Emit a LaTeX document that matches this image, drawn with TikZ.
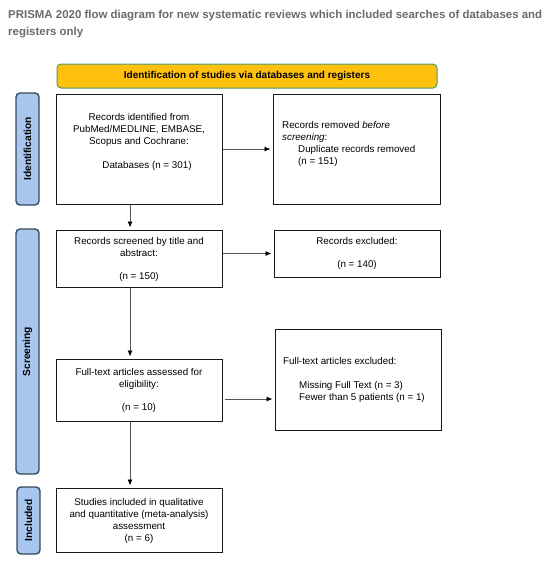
\documentclass[tikz,border=0pt]{standalone}
\usepackage{fontspec}
\setmainfont{Liberation Sans}
\usetikzlibrary{arrows.meta,calc}
\definecolor{titlegray}{HTML}{6B6B6B}
\definecolor{hdrfill}{HTML}{FFC10E}
\definecolor{hdrdraw}{HTML}{4C9A6A}
\definecolor{sidefill}{HTML}{A9C6EE}
\definecolor{sidedraw}{HTML}{34495E}
\definecolor{linegray}{HTML}{555555}
\tikzset{
 box/.style={draw=black!90, line width=1pt, fill=white, inner sep=0pt},
 txt/.style={font=\fontsize{9.8}{11.8}\selectfont, align=center, inner sep=0pt},
 ltxt/.style={font=\fontsize{9.8}{11.8}\selectfont, align=left, inner sep=0pt, anchor=west},
 side/.style={draw=sidedraw, line width=1.4pt, fill=sidefill, rounded corners=4pt, rotate=90, minimum height=23pt, inner sep=0pt, font=\bfseries\fontsize{10.2}{12}\selectfont},
 hdr/.style={draw=hdrdraw, line width=1pt, fill=hdrfill, rounded corners=4pt, minimum width=380pt, minimum height=24pt, inner sep=0pt, font=\bfseries\fontsize{10}{12}\selectfont},
 arr/.style={draw=linegray, line width=0.8pt, -{Latex[length=6pt,width=5pt,color=black]}, shorten >=2pt},
}
\begin{document}
\begin{tikzpicture}[x=1pt,y=-1pt]
\useasboundingbox (0,0) rectangle (550,562);
% title
\node[anchor=north west, inner sep=0pt, text=titlegray] (title) at (8,5.5)
 {\resizebox{534pt}{!}{\bfseries\fontsize{11}{17}\selectfont\begin{tabular}{@{}l@{}}PRISMA 2020 flow diagram for new systematic reviews which included searches of databases and\\registers only\end{tabular}}};
% header
\node[hdr] (hdr) at (247,76) {Identification of studies via databases and registers};
% side labels
\node[side, minimum width=112pt] (sid1) at (27.5,149) {Identification};
\node[side, minimum width=245pt] (sid2) at (27.5,351.5) {Screening};
\node[side, minimum width=67pt] (sid3) at (28.5,520.5) {Included};
% boxes
\node[box, minimum width=166pt, minimum height=110pt] (b1) at (139,149) {};
\node[txt] (b1t) at (139,142) {Records identified from\\PubMed/MEDLINE, EMBASE,\\Scopus and Cochrane:\\[11.8pt]\hspace*{16pt}Databases (n = 301)};
\node[box, minimum width=167pt, minimum height=110pt] (b2) at (356.5,149) {};
\node[ltxt] (b2t) at (282,144) {Records removed \textit{before}\\\textit{screening}:\\\hspace*{16pt}Duplicate records removed\\\hspace*{16pt}(n = 151)};
\node[box, minimum width=166pt, minimum height=57pt] (b3) at (139,258.5) {};
\node[txt] (b3t) at (139,259.5) {Records screened by title and\\abstract:\\[11.8pt](n = 150)};
\node[box, minimum width=166pt, minimum height=47pt] (b4) at (357,253.5) {};
\node[txt] (b4t) at (357,253.5) {Records excluded:\\[11.8pt](n = 140)};
\node[box, minimum width=166pt, minimum height=62pt] (b5) at (139,390) {};
\node[txt] (b5t) at (139,390.5) {Full-text articles assessed for\\eligibility:\\[11.8pt](n = 10)};
\node[box, minimum width=166pt, minimum height=101pt] (b6) at (358,379.5) {};
\node[ltxt] (b6t) at (283,380) {Full-text articles excluded:\\[11.8pt]\hspace*{16pt}Missing Full Text (n = 3)\\\hspace*{16pt}Fewer than 5 patients (n = 1)};
\node[box, minimum width=166pt, minimum height=64pt] (b7) at (139,520) {};
\node[txt] (b7t) at (139,521) {Studies included in qualitative\\and quantitative (meta-analysis)\\assessment\\(n = 6)};
% arrows
\coordinate (ax) at (130,0);
\coordinate (ay) at (0,399);
\draw[arr] (b1.south -| ax) -- (b3.north -| ax);
\draw[arr] (b3.south -| ax) -- (b5.north -| ax);
\draw[arr] (b5.south -| ax) -- (b7.north -| ax);
\draw[arr] (b1.east) -- (b2.west);
\draw[arr] (b3.east |- b4.west) -- (b4.west);
\draw[arr] ([xshift=2pt]b5.east |- ay) -- (b6.west |- ay);
\end{tikzpicture}
\end{document}
